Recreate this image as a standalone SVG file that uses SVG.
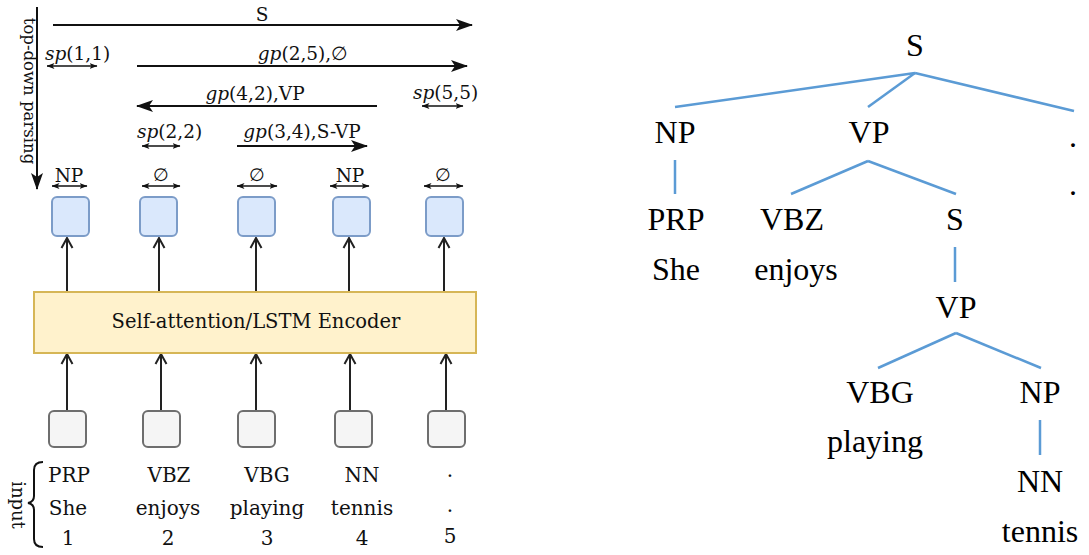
<svg xmlns="http://www.w3.org/2000/svg" width="1089" height="555" viewBox="0 0 1089 555">
<style>
.l{fill:#111}
.lab{font-size:18.5px}
.in{font-size:20px;text-anchor:middle}
.tr{font-size:32px;fill:#000;text-anchor:middle}
.ar{stroke:#111;stroke-width:2;fill:none}
.sa{stroke:#111;stroke-width:1.4;fill:none;marker-start:url(#sm);marker-end:url(#sm)}
.up{stroke:#222;stroke-width:2;fill:none;marker-end:url(#op)}
.blue{fill:#dae8fc;stroke:#7c9cc8;stroke-width:2}
.gray{fill:#f5f5f5;stroke:#6e6e6e;stroke-width:2}
.tl{stroke:#5b9bd5;stroke-width:2.5;fill:none}
</style>
<defs>
<marker id="big" markerUnits="userSpaceOnUse" markerWidth="17" markerHeight="12" refX="16" refY="6" orient="auto"><path d="M0,0 L17,6 L0,12 L4,6 z" fill="#111"/></marker>
<marker id="sm" markerUnits="userSpaceOnUse" markerWidth="8" markerHeight="7" refX="7.5" refY="3.5" orient="auto-start-reverse"><path d="M0,0.5 L8,3.5 L0,6.5 L2,3.5 z" fill="#111"/></marker>
<marker id="op" markerUnits="userSpaceOnUse" markerWidth="14" markerHeight="14" refX="12" refY="7" orient="auto"><path d="M2,1.5 L12,7 L2,12.5" fill="none" stroke="#222" stroke-width="2"/></marker>
</defs>
<rect width="1089" height="555" fill="#fff"/>

<g id="connectors">
  <line class="ar" x1="37" y1="7" x2="37" y2="189" marker-end="url(#big)"/>
  <line class="ar" x1="53" y1="25" x2="472" y2="25" marker-end="url(#big)"/>
  <line class="ar" x1="137" y1="66" x2="467" y2="66" marker-end="url(#big)"/>
  <line class="ar" x1="377" y1="106" x2="137" y2="106" marker-end="url(#big)"/>
  <line class="ar" x1="237" y1="146" x2="367" y2="146" marker-end="url(#big)"/>
  <line class="sa" x1="47" y1="66" x2="97" y2="66"/>
  <line class="sa" x1="422" y1="106" x2="463" y2="106"/>
  <line class="sa" x1="142" y1="146" x2="180" y2="146"/>
  <line class="sa" x1="52" y1="186" x2="87" y2="186"/>
  <line class="sa" x1="142" y1="186" x2="180" y2="186"/>
  <line class="sa" x1="237" y1="186" x2="277" y2="186"/>
  <line class="sa" x1="330" y1="186" x2="369" y2="186"/>
  <line class="sa" x1="424" y1="186" x2="463" y2="186"/>
  <line class="up" x1="67" y1="292" x2="67" y2="238"/>
  <line class="up" x1="159" y1="292" x2="159" y2="238"/>
  <line class="up" x1="256" y1="292" x2="256" y2="238"/>
  <line class="up" x1="349" y1="292" x2="349" y2="238"/>
  <line class="up" x1="444" y1="292" x2="444" y2="238"/>
  <line class="up" x1="67" y1="411" x2="67" y2="354"/>
  <line class="up" x1="161" y1="411" x2="161" y2="354"/>
  <line class="up" x1="256" y1="411" x2="256" y2="354"/>
  <line class="up" x1="350" y1="411" x2="350" y2="354"/>
  <line class="up" x1="446" y1="411" x2="446" y2="354"/>
  <path class="ar" d="M43,462 Q34,462 34,470 L34,496 Q34,502 28,503 Q34,504 34,510 L34,539 Q34,547 43,547"/>
  <line class="tl" x1="915" y1="73" x2="675" y2="107"/>
  <line class="tl" x1="915" y1="73" x2="868" y2="107"/>
  <line class="tl" x1="915" y1="73" x2="1074" y2="111"/>
  <line class="tl" x1="675" y1="160" x2="675" y2="194"/>
  <line class="tl" x1="868" y1="161" x2="791" y2="194"/>
  <line class="tl" x1="868" y1="161" x2="956" y2="194"/>
  <line class="tl" x1="955" y1="247" x2="955" y2="282"/>
  <line class="tl" x1="956" y1="333" x2="878" y2="368"/>
  <line class="tl" x1="956" y1="333" x2="1041" y2="368"/>
  <line class="tl" x1="1040" y1="420" x2="1040" y2="455"/>
</g>

<g id="labels-left" class="l" font-family="'DejaVu Serif', 'Liberation Serif', 'Noto Serif', serif">
  <text x="24" y="91" text-anchor="middle" font-size="16.5" transform="rotate(90 24 91)">top-down parsing</text>
  <text class="lab" x="262" y="21" text-anchor="middle">S</text>
  <text class="lab" x="45" y="60"><tspan font-style="italic">sp</tspan>(1,1)</text>
  <text class="lab" x="303" y="60" text-anchor="middle"><tspan font-style="italic">gp</tspan>(2,5),∅</text>
  <text class="lab" x="255" y="100" text-anchor="middle"><tspan font-style="italic">gp</tspan>(4,2),VP</text>
  <text class="lab" x="413" y="99"><tspan font-style="italic">sp</tspan>(5,5)</text>
  <text class="lab" x="137" y="138"><tspan font-style="italic">sp</tspan>(2,2)</text>
  <text class="lab" x="302" y="138" text-anchor="middle"><tspan font-style="italic">gp</tspan>(3,4),S-VP</text>
  <text class="lab" x="69" y="182" text-anchor="middle">NP</text>
  <text x="161" y="181" text-anchor="middle" font-size="18">∅</text>
  <text x="257" y="181" text-anchor="middle" font-size="18">∅</text>
  <text class="lab" x="350" y="182" text-anchor="middle">NP</text>
  <text x="443" y="181" text-anchor="middle" font-size="18">∅</text>
  <text x="12" y="505" text-anchor="middle" font-size="18" transform="rotate(90 12 505)">input</text>
</g>

<g id="encoder">
  <rect x="34" y="292" width="442" height="61" fill="#fff2cc" stroke="#d6b656" stroke-width="2"/>
  <text class="l" x="256" y="328" font-size="19.5" text-anchor="middle" font-family="'DejaVu Serif', 'Liberation Serif', 'Noto Serif', serif">Self-attention/LSTM Encoder</text>
</g>

<g id="out1"><rect class="blue" x="52" y="197" width="37" height="39" rx="5"/></g>
<g id="out2"><rect class="blue" x="140" y="197" width="37" height="39" rx="5"/></g>
<g id="out3"><rect class="blue" x="238" y="197" width="37" height="39" rx="5"/></g>
<g id="out4"><rect class="blue" x="333" y="197" width="37" height="39" rx="5"/></g>
<g id="out5"><rect class="blue" x="426" y="197" width="37" height="39" rx="5"/></g>

<g id="in1"><rect class="gray" x="49" y="411" width="37" height="36" rx="5"/></g>
<g id="in2"><rect class="gray" x="143" y="411" width="37" height="36" rx="5"/></g>
<g id="in3"><rect class="gray" x="238" y="411" width="37" height="36" rx="5"/></g>
<g id="in4"><rect class="gray" x="335" y="411" width="37" height="36" rx="5"/></g>
<g id="in5"><rect class="gray" x="428" y="411" width="37" height="36" rx="5"/></g>

<g id="tokens" class="l" font-family="'DejaVu Serif', 'Liberation Serif', 'Noto Serif', serif">
  <text class="in" x="69" y="482">PRP</text>
  <text class="in" x="169" y="482">VBZ</text>
  <text class="in" x="267" y="482">VBG</text>
  <text class="in" x="362" y="482">NN</text>
  <text class="in" x="450" y="477">.</text>
  <text class="in" x="68" y="515">She</text>
  <text class="in" x="168" y="515">enjoys</text>
  <text class="in" x="267" y="515">playing</text>
  <text class="in" x="362" y="515">tennis</text>
  <text class="in" x="450" y="512">.</text>
  <text class="in" x="68" y="545">1</text>
  <text class="in" x="168" y="545">2</text>
  <text class="in" x="267" y="545">3</text>
  <text class="in" x="362" y="545">4</text>
  <text class="in" x="450" y="543">5</text>
</g>

<g id="tree" font-family="'Liberation Serif', 'Times New Roman', Tinos, 'Noto Serif', serif">
  <g id="t-S"><text class="tr" x="915" y="56">S</text></g>
  <g id="t-NP"><text class="tr" x="675" y="143">NP</text></g>
  <g id="t-VP"><text class="tr" x="869" y="143">VP</text></g>
  <g id="t-dot"><text class="tr" x="1073" y="147">.</text><text class="tr" x="1073" y="195">.</text></g>
  <g id="t-PRP"><text class="tr" x="676" y="230">PRP</text><text class="tr" x="676" y="280">She</text></g>
  <g id="t-VBZ"><text class="tr" x="792" y="230">VBZ</text><text class="tr" x="796" y="280">enjoys</text></g>
  <g id="t-S2"><text class="tr" x="955" y="230">S</text></g>
  <g id="t-VP2"><text class="tr" x="956" y="318">VP</text></g>
  <g id="t-VBG"><text class="tr" x="880" y="403">VBG</text><text class="tr" x="875" y="452">playing</text></g>
  <g id="t-NP2"><text class="tr" x="1040" y="403">NP</text></g>
  <g id="t-NN"><text class="tr" x="1040" y="492">NN</text><text class="tr" x="1040" y="542">tennis</text></g>
</g>
</svg>
